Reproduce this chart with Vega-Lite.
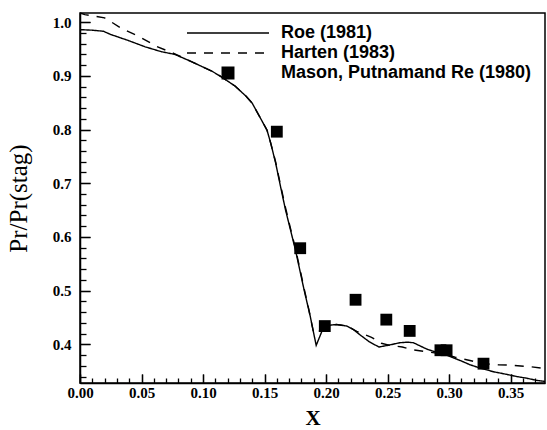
{
  "$schema": "https://vega.github.io/schema/vega-lite/v6.json",
  "width": 465,
  "height": 370,
  "autosize": "none",
  "padding": {"left": 80, "top": 13, "right": 2, "bottom": 47},
  "background": "white",
  "config": {
    "view": {"stroke": "black", "strokeWidth": 1.5, "fill": null},
    "axis": {
      "zindex": 1,
      "domainColor": "black",
      "domainWidth": 1.5,
      "tickColor": "black",
      "tickWidth": 1.3,
      "ticks": true,
      "labelColor": "black",
      "labelFont": "Liberation Serif",
      "labelFontWeight": "bold",
      "labelFontSize": 15,
      "labelFlush": false,
      "labelOverlap": false,
      "grid": false,
      "titleColor": "black",
      "titleFont": "Liberation Serif"
    }
  },
  "resolve": {"axis": {"x": "independent", "y": "independent"}},
  "data": {
    "values": [
      {"series": "Roe (1981)", "x": 0.000, "y": 0.986},
      {"series": "Roe (1981)", "x": 0.010, "y": 0.985},
      {"series": "Roe (1981)", "x": 0.019, "y": 0.983},
      {"series": "Roe (1981)", "x": 0.025, "y": 0.977},
      {"series": "Roe (1981)", "x": 0.039, "y": 0.966},
      {"series": "Roe (1981)", "x": 0.053, "y": 0.954},
      {"series": "Roe (1981)", "x": 0.066, "y": 0.945},
      {"series": "Roe (1981)", "x": 0.077, "y": 0.940},
      {"series": "Roe (1981)", "x": 0.090, "y": 0.927},
      {"series": "Roe (1981)", "x": 0.107, "y": 0.909},
      {"series": "Roe (1981)", "x": 0.115, "y": 0.898},
      {"series": "Roe (1981)", "x": 0.126, "y": 0.881},
      {"series": "Roe (1981)", "x": 0.135, "y": 0.862},
      {"series": "Roe (1981)", "x": 0.140, "y": 0.849},
      {"series": "Roe (1981)", "x": 0.146, "y": 0.824},
      {"series": "Roe (1981)", "x": 0.152, "y": 0.799},
      {"series": "Roe (1981)", "x": 0.155, "y": 0.775},
      {"series": "Roe (1981)", "x": 0.159, "y": 0.738},
      {"series": "Roe (1981)", "x": 0.163, "y": 0.694},
      {"series": "Roe (1981)", "x": 0.167, "y": 0.651},
      {"series": "Roe (1981)", "x": 0.171, "y": 0.614},
      {"series": "Roe (1981)", "x": 0.175, "y": 0.577},
      {"series": "Roe (1981)", "x": 0.179, "y": 0.535},
      {"series": "Roe (1981)", "x": 0.182, "y": 0.503},
      {"series": "Roe (1981)", "x": 0.187, "y": 0.454},
      {"series": "Roe (1981)", "x": 0.192, "y": 0.398},
      {"series": "Roe (1981)", "x": 0.198, "y": 0.432},
      {"series": "Roe (1981)", "x": 0.204, "y": 0.436},
      {"series": "Roe (1981)", "x": 0.209, "y": 0.437},
      {"series": "Roe (1981)", "x": 0.217, "y": 0.434},
      {"series": "Roe (1981)", "x": 0.222, "y": 0.428},
      {"series": "Roe (1981)", "x": 0.228, "y": 0.417},
      {"series": "Roe (1981)", "x": 0.235, "y": 0.405},
      {"series": "Roe (1981)", "x": 0.243, "y": 0.395},
      {"series": "Roe (1981)", "x": 0.252, "y": 0.399},
      {"series": "Roe (1981)", "x": 0.260, "y": 0.403},
      {"series": "Roe (1981)", "x": 0.266, "y": 0.404},
      {"series": "Roe (1981)", "x": 0.271, "y": 0.403},
      {"series": "Roe (1981)", "x": 0.282, "y": 0.391},
      {"series": "Roe (1981)", "x": 0.290, "y": 0.385},
      {"series": "Roe (1981)", "x": 0.300, "y": 0.378},
      {"series": "Roe (1981)", "x": 0.310, "y": 0.369},
      {"series": "Roe (1981)", "x": 0.317, "y": 0.362},
      {"series": "Roe (1981)", "x": 0.325, "y": 0.356},
      {"series": "Roe (1981)", "x": 0.336, "y": 0.349},
      {"series": "Roe (1981)", "x": 0.347, "y": 0.344},
      {"series": "Roe (1981)", "x": 0.355, "y": 0.340},
      {"series": "Roe (1981)", "x": 0.363, "y": 0.337},
      {"series": "Roe (1981)", "x": 0.371, "y": 0.333},
      {"series": "Roe (1981)", "x": 0.378, "y": 0.331},
      {"series": "Harten (1983)", "x": 0.000, "y": 1.017},
      {"series": "Harten (1983)", "x": 0.004, "y": 1.014},
      {"series": "Harten (1983)", "x": 0.020, "y": 1.008},
      {"series": "Harten (1983)", "x": 0.034, "y": 0.988},
      {"series": "Harten (1983)", "x": 0.049, "y": 0.972},
      {"series": "Harten (1983)", "x": 0.062, "y": 0.955},
      {"series": "Harten (1983)", "x": 0.077, "y": 0.941},
      {"series": "Harten (1983)", "x": 0.090, "y": 0.927},
      {"series": "Harten (1983)", "x": 0.107, "y": 0.909},
      {"series": "Harten (1983)", "x": 0.115, "y": 0.898},
      {"series": "Harten (1983)", "x": 0.126, "y": 0.881},
      {"series": "Harten (1983)", "x": 0.135, "y": 0.862},
      {"series": "Harten (1983)", "x": 0.140, "y": 0.849},
      {"series": "Harten (1983)", "x": 0.146, "y": 0.824},
      {"series": "Harten (1983)", "x": 0.152, "y": 0.799},
      {"series": "Harten (1983)", "x": 0.155, "y": 0.775},
      {"series": "Harten (1983)", "x": 0.159, "y": 0.740},
      {"series": "Harten (1983)", "x": 0.163, "y": 0.697},
      {"series": "Harten (1983)", "x": 0.167, "y": 0.655},
      {"series": "Harten (1983)", "x": 0.171, "y": 0.617},
      {"series": "Harten (1983)", "x": 0.175, "y": 0.580},
      {"series": "Harten (1983)", "x": 0.179, "y": 0.538},
      {"series": "Harten (1983)", "x": 0.182, "y": 0.506},
      {"series": "Harten (1983)", "x": 0.186, "y": 0.465},
      {"series": "Harten (1983)", "x": 0.190, "y": 0.420},
      {"series": "Harten (1983)", "x": 0.195, "y": 0.425},
      {"series": "Harten (1983)", "x": 0.200, "y": 0.432},
      {"series": "Harten (1983)", "x": 0.208, "y": 0.437},
      {"series": "Harten (1983)", "x": 0.217, "y": 0.434},
      {"series": "Harten (1983)", "x": 0.225, "y": 0.424},
      {"series": "Harten (1983)", "x": 0.237, "y": 0.413},
      {"series": "Harten (1983)", "x": 0.245, "y": 0.402},
      {"series": "Harten (1983)", "x": 0.252, "y": 0.398},
      {"series": "Harten (1983)", "x": 0.262, "y": 0.395},
      {"series": "Harten (1983)", "x": 0.270, "y": 0.390},
      {"series": "Harten (1983)", "x": 0.282, "y": 0.386},
      {"series": "Harten (1983)", "x": 0.295, "y": 0.382},
      {"series": "Harten (1983)", "x": 0.305, "y": 0.376},
      {"series": "Harten (1983)", "x": 0.317, "y": 0.370},
      {"series": "Harten (1983)", "x": 0.328, "y": 0.364},
      {"series": "Harten (1983)", "x": 0.340, "y": 0.362},
      {"series": "Harten (1983)", "x": 0.352, "y": 0.361},
      {"series": "Harten (1983)", "x": 0.367, "y": 0.358},
      {"series": "Harten (1983)", "x": 0.378, "y": 0.355},
      {"series": "Mason, Putnamand Re (1980)", "x": 0.160, "y": 0.796},
      {"series": "Mason, Putnamand Re (1980)", "x": 0.179, "y": 0.579},
      {"series": "Mason, Putnamand Re (1980)", "x": 0.199, "y": 0.434},
      {"series": "Mason, Putnamand Re (1980)", "x": 0.224, "y": 0.483},
      {"series": "Mason, Putnamand Re (1980)", "x": 0.249, "y": 0.446},
      {"series": "Mason, Putnamand Re (1980)", "x": 0.268, "y": 0.425},
      {"series": "Mason, Putnamand Re (1980)", "x": 0.293, "y": 0.389},
      {"series": "Mason, Putnamand Re (1980)", "x": 0.298, "y": 0.389},
      {"series": "Mason, Putnamand Re (1980)", "x": 0.328, "y": 0.364}
    ]
  },
  "layer": [
    {
      "transform": [{"filter": "datum.series !== 'Mason, Putnamand Re (1980)'"}],
      "mark": {"type": "line", "color": "black", "strokeWidth": 1.4},
      "encoding": {
        "x": {
          "field": "x",
          "type": "quantitative",
          "scale": {"domain": [0, 0.378], "nice": false, "zero": false},
          "axis": {
            "orient": "bottom",
            "title": "X",
            "titleFontSize": 21,
            "titleFontWeight": "bold",
            "titleBaseline": "middle",
            "titleY": 35,
            "values": [0, 0.01, 0.02, 0.03, 0.04, 0.05, 0.06, 0.07, 0.08, 0.09, 0.10, 0.11, 0.12, 0.13, 0.14, 0.15, 0.16, 0.17, 0.18, 0.19, 0.20, 0.21, 0.22, 0.23, 0.24, 0.25, 0.26, 0.27, 0.28, 0.29, 0.30, 0.31, 0.32, 0.33, 0.34, 0.35, 0.36, 0.37],
            "labelExpr": "abs(datum.value*20 - round(datum.value*20)) < 0.001 ? format(datum.value, '.2f') : ''",
            "tickSize": -9,
            "tickDash": {"condition": {"test": "abs(datum.value*20 - round(datum.value*20)) < 0.001", "value": [20, 0]}, "value": [5, 30]},
            "labelPadding": 11
          }
        },
        "y": {
          "field": "y",
          "type": "quantitative",
          "scale": {"domain": [0.328, 1.017], "nice": false, "zero": false},
          "axis": {
            "orient": "left",
            "title": "Pr/Pr(stag)",
            "titleFontSize": 25,
            "titleFontWeight": "normal",
            "titleX": -49,
            "titleY": 185,
            "titleBaseline": "bottom",
            "values": [0.34, 0.36, 0.38, 0.40, 0.42, 0.44, 0.46, 0.48, 0.50, 0.52, 0.54, 0.56, 0.58, 0.60, 0.62, 0.64, 0.66, 0.68, 0.70, 0.72, 0.74, 0.76, 0.78, 0.80, 0.82, 0.84, 0.86, 0.88, 0.90, 0.92, 0.94, 0.96, 0.98, 1.00],
            "labelExpr": "abs(datum.value*10 - round(datum.value*10)) < 0.001 ? format(datum.value, '.1f') : ''",
            "tickSize": -10,
            "tickDash": {"condition": {"test": "abs(datum.value*10 - round(datum.value*10)) < 0.001", "value": [20, 0]}, "value": [6, 30]},
            "labelPadding": 19
          }
        },
        "strokeDash": {
          "field": "series",
          "type": "nominal",
          "scale": {
            "domain": ["Roe (1981)", "Harten (1983)", "Mason, Putnamand Re (1980)"],
            "range": [[1, 0], [9, 8], [1, 0]]
          },
          "legend": {
            "title": null,
            "orient": "none",
            "legendX": 106,
            "legendY": 10,
            "padding": 0,
            "rowPadding": 0,
            "clipHeight": 20,
            "symbolSize": 6724,
            "symbolStrokeWidth": 1.5,
            "symbolStrokeColor": "black",
            "labelOffset": 11,
            "labelFont": "Liberation Sans",
            "labelFontWeight": "bold",
            "labelFontSize": 18,
            "labelColor": "black",
            "labelLimit": 400,
            "encode": {
              "symbols": {
                "update": {
                  "shape": {"signal": "datum.value === 'Mason, Putnamand Re (1980)' ? 'M-0.14,-0.14H0.14V0.14H-0.14Z' : 'stroke'"},
                  "fill": {"signal": "datum.value === 'Mason, Putnamand Re (1980)' ? 'black' : 'transparent'"},
                  "stroke": {"value": "black"}
                }
              }
            }
          }
        }
      }
    },
    {
      "transform": [{"filter": "datum.series === 'Mason, Putnamand Re (1980)'"}],
      "mark": {"type": "point", "shape": "square", "filled": true, "color": "black", "size": 140, "opacity": 1},
      "encoding": {
        "x": {
          "field": "x",
          "type": "quantitative",
          "axis": {
            "orient": "top",
            "offset": -370,
            "title": null,
            "labels": false,
            "domain": false,
            "values": [0, 0.05, 0.10, 0.15, 0.20, 0.25, 0.30, 0.35],
            "tickSize": 9
          }
        },
        "y": {
          "field": "y",
          "type": "quantitative",
          "axis": {
            "orient": "right",
            "offset": -465,
            "title": null,
            "labels": false,
            "domain": false,
            "values": [0.4, 0.5, 0.6, 0.7, 0.8, 0.9, 1.0],
            "tickSize": 10
          }
        }
      }
    }
  ]
}
